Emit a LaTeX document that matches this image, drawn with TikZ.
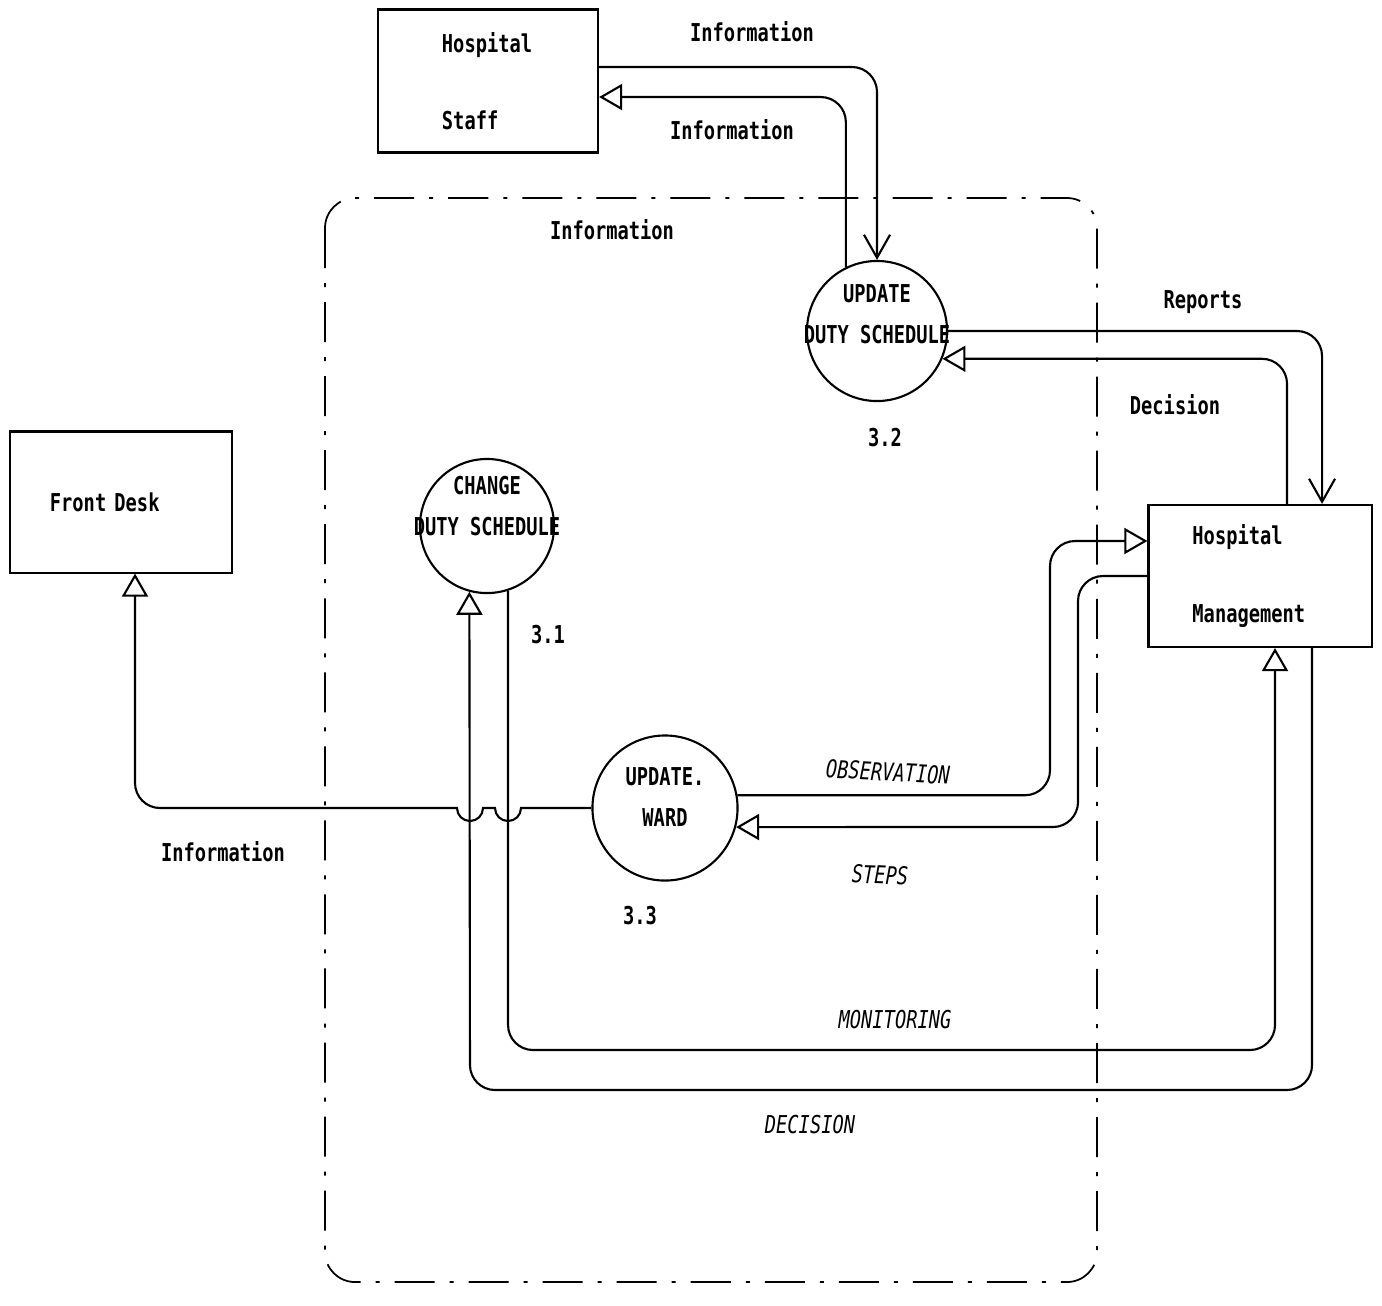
\documentclass[tikz,border=0pt]{standalone}
\usepackage{fontspec}
\usetikzlibrary{arrows.meta,positioning}
\newfontfamily\dotfont[FakeStretch=0.76]{DejaVu Sans Mono}

\begin{document}
\begin{tikzpicture}[
    x=0.01cm, y=-0.01cm,
    box/.style={rectangle, draw, line width=0.6pt, align=left, font=\dotfont\bfseries\fontsize{7}{22}\selectfont},
    proc/.style={circle, draw, line width=0.6pt, inner sep=0pt},
    proctext/.style={align=center, font=\dotfont\bfseries\fontsize{7}{11.5}\selectfont},
    num/.style={font=\dotfont\bfseries\fontsize{7}{8}\selectfont, inner sep=1pt},
    lbl/.style={font=\dotfont\bfseries\fontsize{7}{8}\selectfont},
    caps/.style={font=\dotfont\itshape\fontsize{7}{8}\selectfont},
    flow/.style={line width=0.6pt, rounded corners=0.25cm, -{Triangle[open, length=2.3mm, width=2.6mm]}},
    vflow/.style={line width=0.6pt, rounded corners=0.25cm, -{Straight Barb[length=2.3mm, width=2.6mm]}},
    boundary/.style={line width=0.5pt, rounded corners=0.3cm, dash pattern=on 4mm off 1.5mm on 0.4mm off 1.5mm}
  ]
    \useasboundingbox (0,0) rectangle (1382,1305);
    \draw[boundary] (325,198) rectangle (1097,1282);

    \node[box, text width=0.92cm, minimum width=2.2cm, minimum height=1.43cm] (staff) at (488,81) {Hospital\\Staff};
    \node[box, text width=1.42cm, minimum width=2.22cm, minimum height=1.41cm] (front) at (121,502) {Front Desk};
    \node[box, text width=1.35cm, minimum width=2.23cm, minimum height=1.42cm] (mgmt) at (1260,576) {Hospital\\Management};

    \node[proc, minimum size=1.4cm, label={[proctext, yshift=0.17cm]center:UPDATE\\DUTY SCHEDULE}] (p32) at (877,331) {};
    \node[proc, minimum size=1.34cm, label={[proctext, yshift=0.2cm]center:CHANGE\\DUTY SCHEDULE}] (p31) at (487,526) {};
    \node[proc, minimum size=1.45cm, label={[proctext, yshift=0.11cm]center:UPDATE.\\WARD}] (p33) at (665,808) {};

    \node[num, below=0.22cm of p32, xshift=0.08cm] (n32) {3.2};
    \node[num, below=0.27cm of p31, xshift=0.61cm] (n31) {3.1};
    \node[num, below=0.2cm of p33, xshift=-0.25cm] (n33) {3.3};

    \draw[vflow] ([yshift=0.14cm]staff.east) -| (p32.north);
    \draw[flow] (p32.116) |- ([yshift=-0.16cm]staff.east);
    \draw[vflow] (p32.east) -| ([xshift=0.62cm]mgmt.north);
    \draw[flow] ([xshift=0.27cm]mgmt.north) |- (p32.-23);
    \draw[flow] (p33.10) -| (1050,541) -- ([yshift=0.35cm]mgmt.west);
    \draw[flow] (mgmt.west) -| (1078,827) -- (p33.-15);
    \draw[flow] (p31.-72) |- (1275,1050) -- ([xshift=0.15cm]mgmt.south);
    \draw[flow] ([xshift=0.52cm]mgmt.south) |- (470,1090) -- (p31.-105);
    \draw[flow, sharp corners] (p33.west) -- (521,808)
      arc[start angle=0, end angle=-180, radius=0.13cm] -- (483,808)
      arc[start angle=0, end angle=-180, radius=0.13cm]
      [rounded corners=0.25cm] -| ([xshift=0.14cm]front.south);

    \node[lbl] (info1) at (752,32) {Information};
    \node[lbl] (info2) at (732,130) {Information};
    \node[lbl] (info3) at (612,230) {Information};
    \node[lbl] (info4) at (223,852) {Information};
    \node[lbl] (reports) at (1203,302) {Reports};
    \node[lbl] (decision) at (1175,405) {Decision};
    \node[caps, rotate=-3] (obs) at (888,772) {OBSERVATION};
    \node[caps, rotate=-2] (steps) at (880,875) {STEPS};
    \node[caps] (monit) at (895,1020) {MONITORING};
    \node[caps] (decis) at (810,1125) {DECISION};
  \end{tikzpicture}
\end{document}
